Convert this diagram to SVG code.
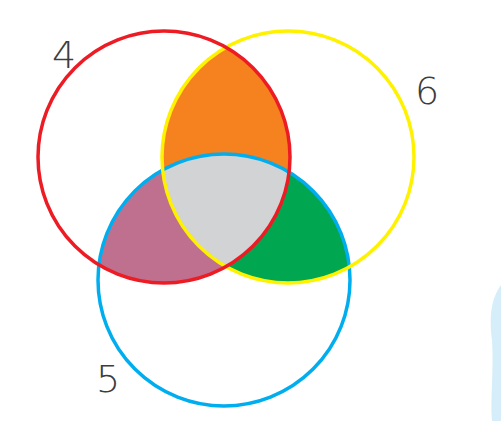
<svg xmlns="http://www.w3.org/2000/svg" width="501" height="421" viewBox="0 0 501 421">
<style>
.c{fill:none;stroke-width:3.5}
.t{font-family:"DejaVu Sans",sans-serif;font-size:38px;fill:#3d3d3d;font-weight:300}
</style>
<defs>
<clipPath id="cr"><circle cx="164" cy="157" r="126"/></clipPath>
<clipPath id="cy"><circle cx="288" cy="157" r="126"/></clipPath>
</defs>
<rect width="501" height="421" fill="#fff"/>
<path d="M501,285 C494,295 488,310 492,340 C494,370 490,400 492,421 L501,421 Z" fill="#d5eef9"/>
<g id="regions">
<circle cx="288" cy="157" r="126" fill="#F5821F" clip-path="url(#cr)"/>
<circle cx="224" cy="280" r="126" fill="#C0708F" clip-path="url(#cr)"/>
<circle cx="224" cy="280" r="126" fill="#00A650" clip-path="url(#cy)"/>
<g clip-path="url(#cr)"><circle cx="224" cy="280" r="126" fill="#D1D3D4" clip-path="url(#cy)"/></g>
</g>
<g id="set5"><circle class="c" cx="224" cy="280" r="126" stroke="#00AEEF"/><text class="t" x="96" y="392">5</text></g>
<g id="set6"><circle class="c" cx="288" cy="157" r="126" stroke="#FFF200"/><text class="t" x="415" y="104">6</text></g>
<g id="set4"><circle class="c" cx="164" cy="157" r="126" stroke="#ED1C24"/><text class="t" x="52" y="68">4</text></g>
<g id="connectors"/>
</svg>
